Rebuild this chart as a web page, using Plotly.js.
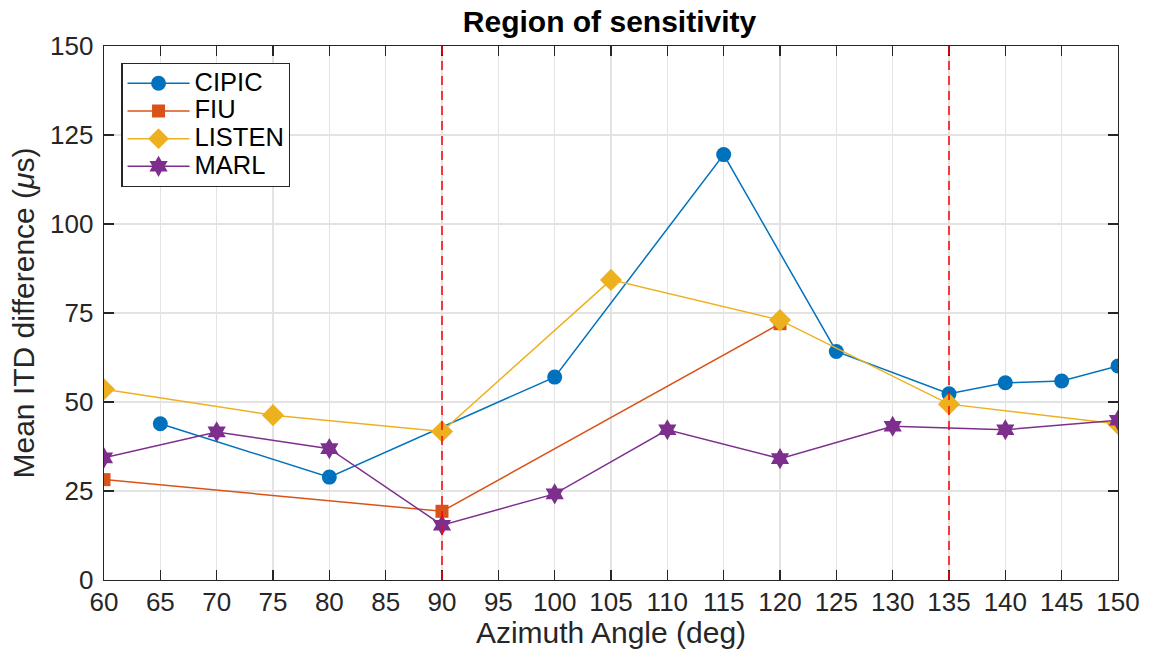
<!DOCTYPE html>
<html><head><meta charset="utf-8">
<script src="https://cdn.plot.ly/plotly-3.0.1.min.js"></script>
<style>body{margin:0;background:#fff}#chart{width:1150px;height:657px}</style>
</head><body><div id="chart"></div>
<script>
const cipicX = [65, 80, 100, 115, 125, 135, 140, 145, 150];
const cipicY = [43.9, 28.9, 57.0, 119.5, 64.2, 52.3, 55.4, 55.9, 60.1];
const fiuX = [60, 90, 120];
const fiuY = [28.2, 19.3, 72.0];
const listenX = [60, 75, 90, 105, 120, 135, 150];
const listenY = [53.6, 46.3, 41.7, 84.3, 73.0, 49.4, 43.8];
const marlX = [60, 70, 80, 90, 100, 110, 120, 130, 140, 150];
const marlY = [34.3, 41.6, 36.9, 15.4, 24.2, 42.2, 34.1, 43.2, 42.2, 44.9];
const boundaries = [90, 135];
const xTicks = [60,65,70,75,80,85,90,95,100,105,110,115,120,125,130,135,140,145,150];
const yTicks = [0,25,50,75,100,125,150];

const FONT = 'Liberation Sans, Arial, Helvetica, sans-serif';
function tr(name, x, y, color, symbol, size) {
  return {x, y, name: '<span style="font-size:25.5px">' + name + '</span>', type: 'scatter', mode: 'lines+markers',
    line: {color, width: 1.5},
    marker: {color, symbol, size, line: {width: 0}}};
}
const data = [
  tr('CIPIC', cipicX, cipicY, '#0072BD', 'circle', 15),
  tr('FIU', fiuX, fiuY, '#D95319', 'square', 13),
  tr('LISTEN', listenX, listenY, '#EDB120', 'diamond', 17),
  tr('MARL', marlX, marlY, '#7E2F8E', 'hexagram', 16)
];
const shapes = boundaries.map(b => ({type: 'line', xref: 'x', yref: 'y',
  x0: b, x1: b, y0: 0, y1: 150, line: {color: '#FF0000', width: 1.5, dash: '9px,6px'}}));
const axisCommon = {showline: true, linecolor: '#262626', linewidth: 1.3, mirror: 'ticks',
  ticks: 'inside', ticklen: 10, tickwidth: 1.3, tickcolor: '#262626',
  showgrid: true, gridcolor: '#e3e3e3', gridwidth: 1.5, zeroline: false,
  tickfont: {family: FONT, size: 26, color: '#262626'}};
const layout = {
  width: 1150, height: 657,
  margin: {l: 104, r: 32, t: 46, b: 77},
  paper_bgcolor: '#fff', plot_bgcolor: '#fff',
  title: {text: '<b>Region of sensitivity</b>', x: 0.53, xanchor: 'center', y: 0.967, yanchor: 'middle',
    font: {family: FONT, size: 30, color: '#000'}},
  xaxis: Object.assign({}, axisCommon, {range: [60, 150], tickvals: xTicks, ticktext: xTicks.map(String),
    ticklabelstandoff: -2,
    title: {text: 'Azimuth Angle (deg)', standoff: 2, font: {family: FONT, size: 30, color: '#262626'}}}),
  yaxis: Object.assign({}, axisCommon, {range: [0, 150], tickvals: yTicks, ticktext: yTicks.map(String),
    ticklabelstandoff: 4,
    title: {text: 'Mean ITD difference (<i>μ</i>s)', standoff: 6, font: {family: FONT, size: 30, color: '#262626'}}}),
  shapes,
  showlegend: true,
  legend: {x: 0.017, y: 0.968, xanchor: 'left', yanchor: 'top', bgcolor: '#fff',
    bordercolor: '#262626', borderwidth: 1.3, itemwidth: 62, tracegroupgap: 0,
    font: {family: FONT, size: 19, color: '#000'}}
};
Plotly.newPlot('chart', data, layout, {displayModeBar: false, staticPlot: true});
</script></body></html>
